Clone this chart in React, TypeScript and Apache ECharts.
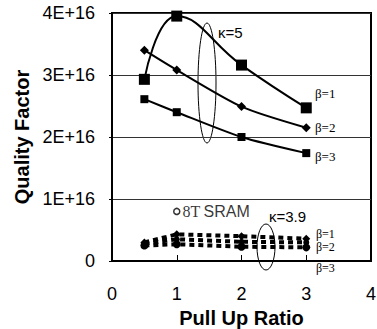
import React, { useEffect, useRef } from "react";
import * as echarts from "echarts";

const xValues = [0.5, 1, 2, 3];
// kappa = 5 (units of 1E+16)
const k5b1 = [2.93, 3.95, 3.16, 2.47];
const k5b2 = [3.4, 3.08, 2.49, 2.15];
const k5b3 = [2.61, 2.4, 2.0, 1.74];
// kappa = 3.9
const k39b1 = [0.3, 0.43, 0.4, 0.36];
const k39b2 = [0.28, 0.35, 0.31, 0.3];
const k39b3 = [0.25, 0.27, 0.23, 0.22];
// 8T SRAM
const sramPoint = [1, 0.8];
const yTicks = [0, 1, 2, 3, 4];

const E = 1e16;
const toData = (ys: number[]) => ys.map((y, i) => [xValues[i], y * E]);

export default function App() {
  const ref = useRef<HTMLDivElement>(null);
  useEffect(() => {
    if (!ref.current) return;
    document.documentElement.style.margin = "0";
    document.documentElement.style.overflow = "hidden";
    document.body.style.margin = "0";
    document.body.style.overflow = "hidden";
    const chart = echarts.init(ref.current, null, { renderer: "svg" });
    const sans = "Liberation Sans, Arial, sans-serif";
    const serif = "Liberation Serif, Times New Roman, serif";
    const solidLine = { color: "#000", width: 2 };
    const dashLine = { color: "#000", width: 4, type: [5, 4] as any };
    chart.setOption({
      animation: false,
      grid: {
        left: 112,
        right: 6,
        top: 13,
        bottom: 68,
        containLabel: false,
        outerBoundsMode: "none",
        show: true,
        borderColor: "#000",
        borderWidth: 2,
      },
      xAxis: {
        type: "value",
        min: 0,
        max: 4,
        interval: 1,
        name: "Pull Up Ratio",
        nameLocation: "middle",
        nameGap: 24,
        nameTextStyle: { fontFamily: sans, fontWeight: "bold", fontSize: 20, color: "#000" },
        axisLine: { lineStyle: { color: "#000", width: 2 } },
        axisTick: { inside: true, length: 6, lineStyle: { color: "#000" } },
        axisLabel: { fontFamily: sans, fontSize: 18, color: "#000", margin: 24 },
        splitLine: { show: false },
      },
      yAxis: {
        type: "value",
        min: 0,
        max: 4 * E,
        interval: E,
        name: "Quality Factor",
        nameLocation: "middle",
        nameGap: 77,
        nameTextStyle: { fontFamily: sans, fontWeight: "bold", fontSize: 20, color: "#000" },
        axisLine: { lineStyle: { color: "#000", width: 2 } },
        axisTick: { show: true, length: 3, lineStyle: { color: "#000" } },
        axisLabel: {
          fontFamily: sans,
          fontSize: 18,
          color: "#000",
          margin: 17,
          formatter: (v: number) => {
            const k = Math.round(v / E);
            return yTicks.includes(k) && k === 0 ? "0" : `${k}E+16`;
          },
        },
        splitLine: { show: true, lineStyle: { color: "#333", width: 1 } },
      },
      series: [
        {
          type: "line",
          data: toData(k5b1),
          smooth: 0.45,
          symbol: "rect",
          symbolSize: 11,
          itemStyle: { color: "#000" },
          lineStyle: solidLine,
        },
        {
          type: "line",
          data: toData(k5b2),
          smooth: 0.25,
          symbol: "diamond",
          symbolSize: 9,
          itemStyle: { color: "#000" },
          lineStyle: solidLine,
        },
        {
          type: "line",
          data: toData(k5b3),
          smooth: 0.25,
          symbol: "rect",
          symbolSize: 8,
          itemStyle: { color: "#000" },
          lineStyle: solidLine,
        },
        {
          type: "line",
          data: toData(k39b1),
          symbol: "diamond",
          symbolSize: 8,
          itemStyle: { color: "#000" },
          lineStyle: dashLine,
        },
        {
          type: "line",
          data: toData(k39b2),
          symbol: "circle",
          symbolSize: 6,
          itemStyle: { color: "#000" },
          lineStyle: dashLine,
        },
        {
          type: "line",
          data: toData(k39b3),
          symbol: "circle",
          symbolSize: 8,
          itemStyle: { color: "#000" },
          lineStyle: dashLine,
        },
        {
          type: "scatter",
          data: [[sramPoint[0], sramPoint[1] * E]],
          symbol: "circle",
          symbolSize: 6,
          itemStyle: { color: "#fff", borderColor: "#000", borderWidth: 1.5 },
          label: {
            show: true,
            position: "right",
            distance: 2,
            formatter: "{a|8T} {b|SRAM}",
            rich: {
              a: { fontFamily: serif, fontSize: 16, color: "#000" },
              b: { fontFamily: sans, fontSize: 16, color: "#000" },
            },
          },
        },
      ],
      graphic: [
        {
          type: "ellipse",
          shape: { cx: 207, cy: 83, rx: 9, ry: 60 },
          style: { fill: "none", stroke: "#000", lineWidth: 1 },
        },
        {
          type: "ellipse",
          shape: { cx: 266, cy: 247, rx: 9, ry: 23 },
          style: { fill: "none", stroke: "#000", lineWidth: 1 },
        },
        { type: "text", x: 218, y: 25, style: { text: "κ=5", font: `15px ${sans}`, fill: "#000" } },
        { type: "text", x: 269, y: 209, style: { text: "κ=3.9", font: `15px ${sans}`, fill: "#000" } },
        { type: "text", x: 315, y: 87, style: { text: "β=1", font: `13px ${serif}`, fill: "#000" } },
        { type: "text", x: 315, y: 121, style: { text: "β=2", font: `13px ${serif}`, fill: "#000" } },
        { type: "text", x: 315, y: 150, style: { text: "β=3", font: `13px ${serif}`, fill: "#000" } },
        { type: "text", x: 316, y: 228, style: { text: "β=1", font: `12px ${serif}`, fill: "#000" } },
        { type: "text", x: 316, y: 241, style: { text: "β=2", font: `12px ${serif}`, fill: "#000" } },
        { type: "text", x: 316, y: 262, style: { text: "β=3", font: `12px ${serif}`, fill: "#000" } },
      ],
    });
    return () => chart.dispose();
  }, []);
  return (
    <div
      ref={ref}
      style={{ position: "absolute", left: 0, top: 0, width: 377, height: 329, overflow: "hidden", background: "#fff" }}
    />
  );
}
